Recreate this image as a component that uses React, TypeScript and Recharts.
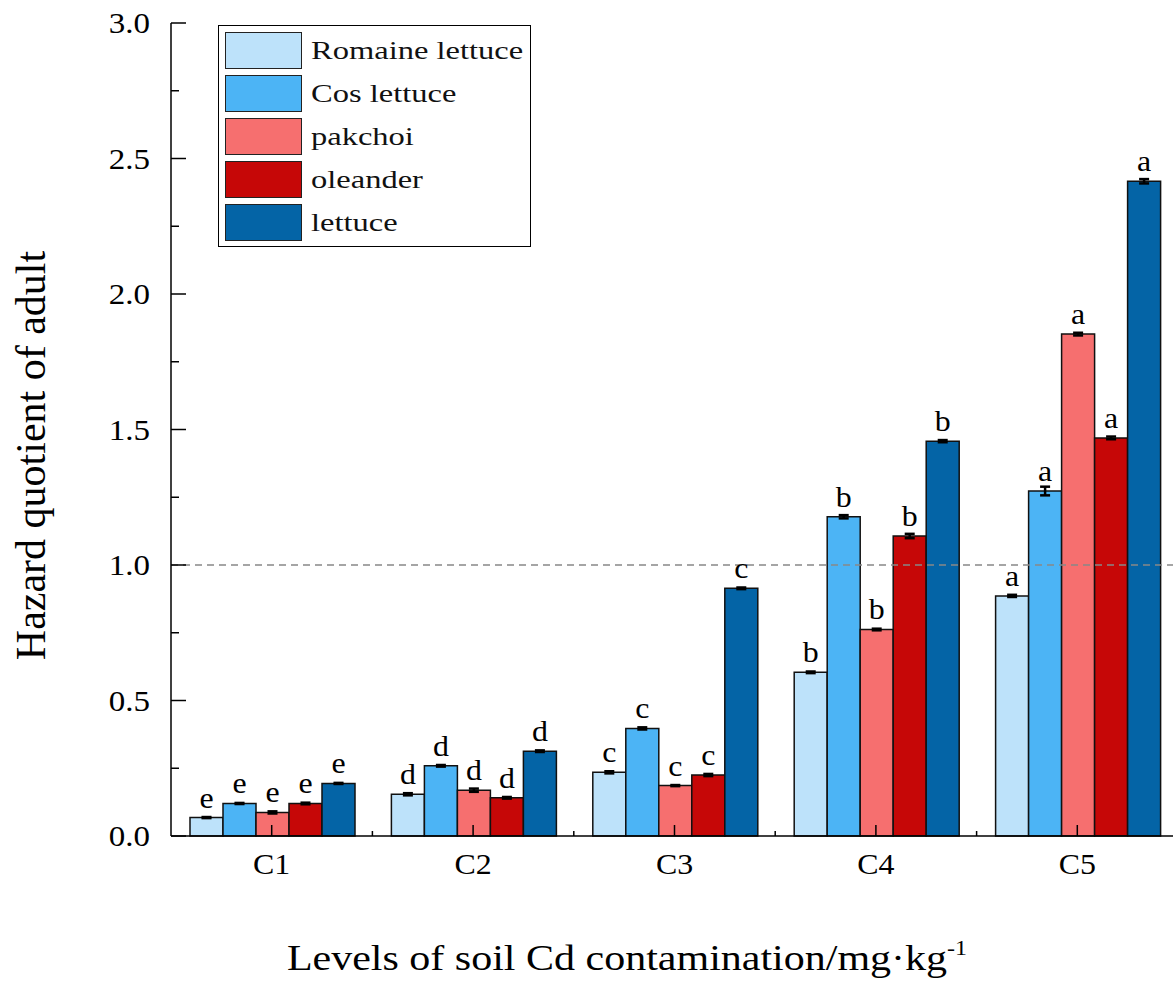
import React from 'react'
import {
  BarChart,
  Bar,
  XAxis,
  YAxis,
  ErrorBar,
  LabelList,
  ReferenceLine,
} from 'recharts'

const categories = ['C1', 'C2', 'C3', 'C4', 'C5']
const letters = ['e', 'd', 'c', 'b', 'a']

const romaine = [0.068, 0.154, 0.235, 0.604, 0.886]
const cos = [0.12, 0.259, 0.397, 1.178, 1.273]
const pakchoi = [0.087, 0.169, 0.186, 0.762, 1.852]
const oleander = [0.12, 0.141, 0.225, 1.107, 1.469]
const lettuce = [0.194, 0.313, 0.914, 1.457, 2.416]

const romaineErr = [0.002, 0.004, 0.004, 0.003, 0.004]
const cosErr = [0.002, 0.003, 0.004, 0.006, 0.016]
const pakchoiErr = [0.004, 0.006, 0.002, 0.003, 0.005]
const oleanderErr = [0.003, 0.003, 0.004, 0.008, 0.005]
const lettuceErr = [0.002, 0.003, 0.003, 0.004, 0.008]

const yTicks = [0, 0.25, 0.5, 0.75, 1, 1.25, 1.5, 1.75, 2, 2.25, 2.5, 2.75, 3]

const series = [
  { key: 'romaine', name: 'Romaine lettuce', color: '#BDE2FA' },
  { key: 'cos', name: 'Cos lettuce', color: '#4CB4F5' },
  { key: 'pakchoi', name: 'pakchoi', color: '#F66F6F' },
  { key: 'oleander', name: 'oleander', color: '#C60707' },
  { key: 'lettuce', name: 'lettuce', color: '#0464A6' },
]

const data = categories.map((cat, i) => ({
  cat,
  letter: letters[i],
  romaine: romaine[i],
  romaineErr: romaineErr[i],
  cos: cos[i],
  cosErr: cosErr[i],
  pakchoi: pakchoi[i],
  pakchoiErr: pakchoiErr[i],
  oleander: oleander[i],
  oleanderErr: oleanderErr[i],
  lettuce: lettuce[i],
  lettuceErr: lettuceErr[i],
}))

const FONT = '"Liberation Serif", "Times New Roman", serif'
const W = 1180
const H = 1006
const X_H = 30
const M = { top: 23, right: 2, bottom: 170 - X_H, left: 0 }
const Y_W = 171
const BAND = (W - M.left - M.right - Y_W) / categories.length

function YTick({ x, y, payload }: any) {
  const major = Math.round(payload.value * 4) % 2 === 0
  return (
    <g>
      <line x1={x} x2={x + (major ? 15 : 8)} y1={y} y2={y} stroke="#000" strokeWidth={1.5} />
      {major && (
        <text
          transform={`translate(${x - 21},${y + 10}) scale(1.1,1)`}
          textAnchor="end"
          fontFamily={FONT}
          fontSize={30}
          fill="#000"
        >
          {payload.value.toFixed(1)}
        </text>
      )}
    </g>
  )
}

function XTick({ x, y, payload, index }: any) {
  return (
    <g>
      <line x1={x} x2={x} y1={y} y2={y - 11} stroke="#000" strokeWidth={1.5} />
      {index < categories.length - 1 && (
        <line x1={x + BAND / 2} x2={x + BAND / 2} y1={y} y2={y - 5} stroke="#000" strokeWidth={1.5} />
      )}
      <text
        transform={`translate(${x},${y + 38}) scale(1.1,1)`}
        textAnchor="middle"
        fontFamily={FONT}
        fontSize={29}
        fill="#000"
      >
        {payload.value}
      </text>
    </g>
  )
}

function Letter({ x, y, width, index }: any) {
  return (
    <text
      transform={`translate(${x + width / 2},${y - 10}) scale(1.1,1)`}
      textAnchor="middle"
      fontFamily={FONT}
      fontSize={29}
      fill="#000"
    >
      {letters[index]}
    </text>
  )
}

function LegendBox() {
  return (
    <div
      style={{
        position: 'absolute',
        left: 218,
        top: 25,
        width: 313,
        height: 222,
        border: '1.5px solid #000',
        boxSizing: 'border-box',
        background: '#fff',
      }}
    >
      {series.map((s, i) => (
        <div key={s.key} style={{ position: 'absolute', left: 6, top: 6 + i * 43, height: 37 }}>
          <div
            style={{
              position: 'absolute',
              left: 0,
              top: 0,
              width: 77,
              height: 37,
              background: s.color,
              border: '1.5px solid #222',
              boxSizing: 'border-box',
            }}
          />
          <div
            style={{
              position: 'absolute',
              left: 86,
              top: 0,
              lineHeight: '37px',
              fontFamily: FONT,
              fontSize: 26,
              whiteSpace: 'nowrap',
              color: '#111',
              transform: 'scaleX(1.25)',
              transformOrigin: 'left center',
            }}
          >
            {s.name}
          </div>
        </div>
      ))}
    </div>
  )
}

export default function App() {
  return (
    <div
      style={{
        position: 'fixed',
        left: 0,
        top: 0,
        width: 1173,
        height: 1006,
        overflow: 'hidden',
        background: '#fff',
      }}
    >
      <BarChart
        width={W}
        height={H}
        data={data}
        margin={M}
        barCategoryGap={19}
        barGap={0}
      >
        <XAxis
          dataKey="cat"
          height={X_H}
          interval={0}
          tickSize={0}
          tickMargin={0}
          tickLine={false}
          tick={<XTick />}
          axisLine={{ stroke: '#000', strokeWidth: 1.5 }}
        />
        <YAxis
          type="number"
          domain={[0, 3]}
          ticks={yTicks}
          interval={0}
          width={Y_W}
          tickSize={0}
          tickMargin={0}
          tickLine={false}
          tick={<YTick />}
          axisLine={{ stroke: '#000', strokeWidth: 1.5 }}
        />
        <ReferenceLine y={1} stroke="#888" strokeDasharray="7 5" strokeWidth={1.5} />
        {series.map((s) => (
          <Bar
            key={s.key}
            dataKey={s.key}
            name={s.name}
            fill={s.color}
            stroke="#111"
            strokeWidth={1.5}
            isAnimationActive={false}
          >
            <ErrorBar dataKey={`${s.key}Err`} width={5} stroke="#000" strokeWidth={2.5} />
            <LabelList dataKey="letter" content={<Letter />} />
          </Bar>
        ))}
      </BarChart>

      <LegendBox />

      {/* axis titles */}
      <div
        style={{
          position: 'absolute',
          left: 30.7 - 300,
          top: 455 - 20.5,
          width: 600,
          height: 41,
          lineHeight: '41px',
          fontFamily: FONT,
          fontSize: 42,
          textAlign: 'center',
          whiteSpace: 'nowrap',
          color: '#000',
          transform: 'rotate(-90deg)',
        }}
      >
        Hazard quotient of adult
      </div>
      <div
        style={{
          position: 'absolute',
          left: 627 - 500,
          top: 941,
          width: 1000,
          lineHeight: '35px',
          fontFamily: FONT,
          fontSize: 35,
          textAlign: 'center',
          whiteSpace: 'nowrap',
          color: '#000',
          transform: 'scaleX(1.2)',
        }}
      >
        Levels of soil Cd contamination/mg·kg
        <span style={{ fontSize: 20, position: 'relative', top: -15 }}>-1</span>
      </div>
    </div>
  )
}
